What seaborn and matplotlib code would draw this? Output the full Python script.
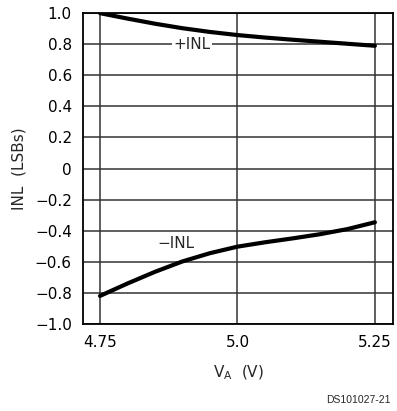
import pandas as pd
import matplotlib
matplotlib.use("Agg")
import matplotlib.pyplot as plt
import seaborn as sns

sns.set_theme(style="white")
plt.rcParams['font.family'] = ['DejaVu Sans']

# supply voltage (V)
va = [4.75, 4.80, 4.85, 4.90, 4.95, 5.00, 5.05, 5.10, 5.15, 5.20, 5.25]
# integral non-linearity (LSBs)
inl_pos = [1.00, 0.965, 0.932, 0.903, 0.879, 0.859, 0.843, 0.829, 0.816, 0.803, 0.79]
inl_neg = [-0.82, -0.74, -0.665, -0.598, -0.545, -0.503, -0.475, -0.45, -0.423, -0.39, -0.346]

x_ticks = [4.75, 5.0, 5.25]
x_tick_labels = ["4.75", "5.0", "5.25"]
y_ticks = [1.0, 0.8, 0.6, 0.4, 0.2, 0.0, -0.2, -0.4, -0.6, -0.8, -1.0]
y_tick_labels = ["1.0", "0.8", "0.6", "0.4", "0.2", "0", "\u22120.2", "\u22120.4",
                 "\u22120.6", "\u22120.8", "\u22121.0"]

df = pd.DataFrame({
    "VA": va + va,
    "INL": inl_pos + inl_neg,
    "curve": ["+INL"] * len(va) + ["-INL"] * len(va),
})

fig = plt.figure(figsize=(3.97, 4.11), dpi=100)
ax = fig.add_axes([0.209, 0.212, 0.781, 0.756])

sns.lineplot(data=df, x="VA", y="INL", units="curve", estimator=None,
             color="black", linewidth=3, ax=ax, zorder=3)

ax.set_xlim(4.719, 5.283)
ax.set_ylim(-1.0, 1.0)
ax.set_xticks(x_ticks)
ax.set_xticklabels(x_tick_labels)
ax.set_yticks(y_ticks)
ax.set_yticklabels(y_tick_labels)
ax.tick_params(axis="both", length=0, labelsize=11, colors="black", pad=8)
ax.grid(True, color="#333333", linewidth=1.1)
for s in ax.spines.values():
    s.set_color("black")
    s.set_linewidth(1.3)

ax.set_xlabel("V$_\\mathregular{A}$  (V)", fontsize=11, labelpad=10)
ax.set_ylabel("INL  (LSBs)", fontsize=11, labelpad=6)

ax.text(4.917, 0.8, "+INL", ha="center", va="center", fontsize=11,
        bbox=dict(facecolor="white", edgecolor="none", pad=1), zorder=4)
ax.text(4.889, -0.48, "\u2212INL", ha="center", va="center", fontsize=11,
        bbox=dict(facecolor="white", edgecolor="none", pad=1), zorder=4)

fig.text(0.985, 0.015, "DS101027-21", ha="right", va="bottom", fontsize=7.5,
         family="Liberation Sans")

fig.savefig("out.png", dpi=100)
